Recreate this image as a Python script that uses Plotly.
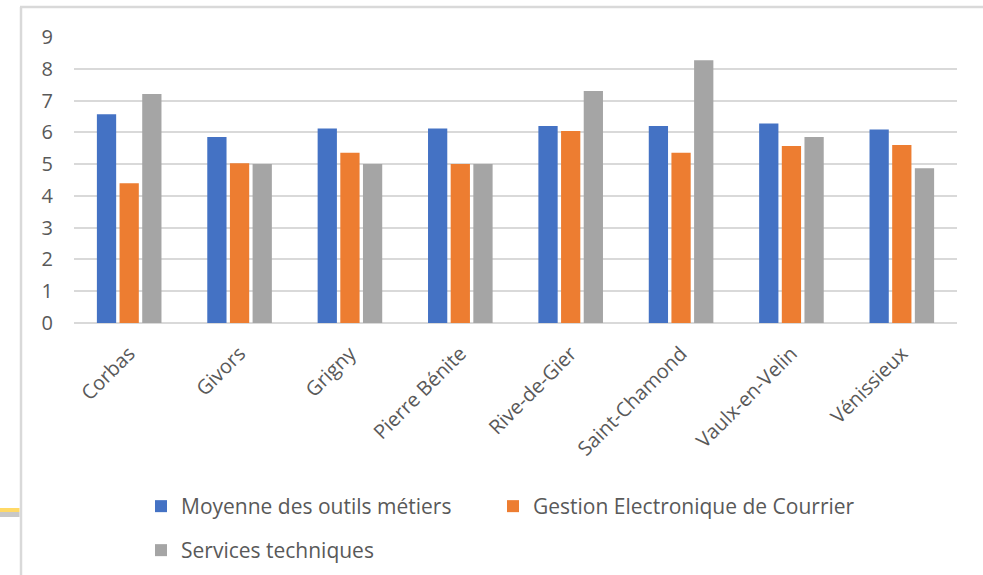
import plotly.graph_objects as go

# Communes and scores per category
communes = ["Corbas", "Givors", "Grigny", "Pierre Bénite", "Rive-de-Gier",
            "Saint-Chamond", "Vaulx-en-Velin", "Vénissieux"]
moyenne_outils = [6.57, 5.85, 6.12, 6.12, 6.20, 6.20, 6.28, 6.09]
gestion_courrier = [4.40, 5.03, 5.36, 5.00, 6.04, 5.36, 5.57, 5.60]
services_tech = [7.21, 5.00, 5.00, 5.00, 7.30, 8.27, 5.85, 4.87]
y_ticks = list(range(0, 10))

W, H = 983, 575
L, R, T, B = 74, 26, 37, 252
FONT = "Open Sans"
FS = 20
FS_LEG = 21
TXT = "#595959"
GRID = "#d9d9d9"

fig = go.Figure()
fig.add_trace(go.Bar(name="Moyenne des outils métiers", x=communes, y=moyenne_outils,
                     marker=dict(color="#4472C4", line=dict(width=0)), legend="legend"))
fig.add_trace(go.Bar(name="Gestion Electronique de Courrier", x=communes, y=gestion_courrier,
                     marker=dict(color="#ED7D31", line=dict(width=0)), legend="legend3"))
fig.add_trace(go.Bar(name="Services techniques", x=communes, y=services_tech,
                     marker=dict(color="#A5A5A5", line=dict(width=0)), legend="legend2"))

pw, ph = W - L - R, H - T - B


def px(x):
    return (x - L) / pw


def py(y):
    return (H - B - y) / ph


shapes = [
    # chart frame (left and top edges)
    dict(type="line", xref="paper", yref="paper", x0=px(21), x1=px(21), y0=py(7), y1=py(H + 2),
         line=dict(color=GRID, width=2.5)),
    dict(type="line", xref="paper", yref="paper", x0=px(20), x1=px(W + 2), y0=py(7), y1=py(7),
         line=dict(color=GRID, width=2.5)),
    # small highlight stroke outside the frame
    dict(type="line", xref="paper", yref="paper", x0=px(0), x1=px(19.5), y0=py(510), y1=py(510),
         line=dict(color="#ffd966", width=4)),
    dict(type="line", xref="paper", yref="paper", x0=px(0), x1=px(19.5), y0=py(514.5), y1=py(514.5),
         line=dict(color="#c8c8c8", width=5)),
]


def legend_box(x, y):
    return dict(orientation="h", x=px(x), y=py(y), xanchor="left", yanchor="top",
                font=dict(size=FS_LEG, color=TXT, family=FONT),
                bgcolor="rgba(0,0,0,0)", itemclick=False)


fig.update_layout(
    width=W, height=H,
    margin=dict(l=L, r=R, t=T, b=B, autoexpand=False),
    paper_bgcolor="white", plot_bgcolor="white",
    font=dict(family=FONT, color=TXT, size=FS),
    barmode="group", bargap=0.384, bargroupgap=0.15,
    showlegend=True,
    legend=legend_box(141, 486),
    legend3=legend_box(493, 486),
    legend2=legend_box(141, 530),
    xaxis=dict(tickangle=-45, showgrid=False, showline=False, ticks="",
               tickfont=dict(size=FS, color=TXT, family=FONT), ticklabelstandoff=14),
    yaxis=dict(range=[0, 9], tickvals=y_ticks, showgrid=True, gridcolor=GRID, gridwidth=2,
               zeroline=True, zerolinecolor=GRID, zerolinewidth=2, showline=False, ticks="",
               tickfont=dict(size=FS, color=TXT, family=FONT), ticklabelstandoff=20),
    shapes=shapes,
)

fig.write_html("out.html")
